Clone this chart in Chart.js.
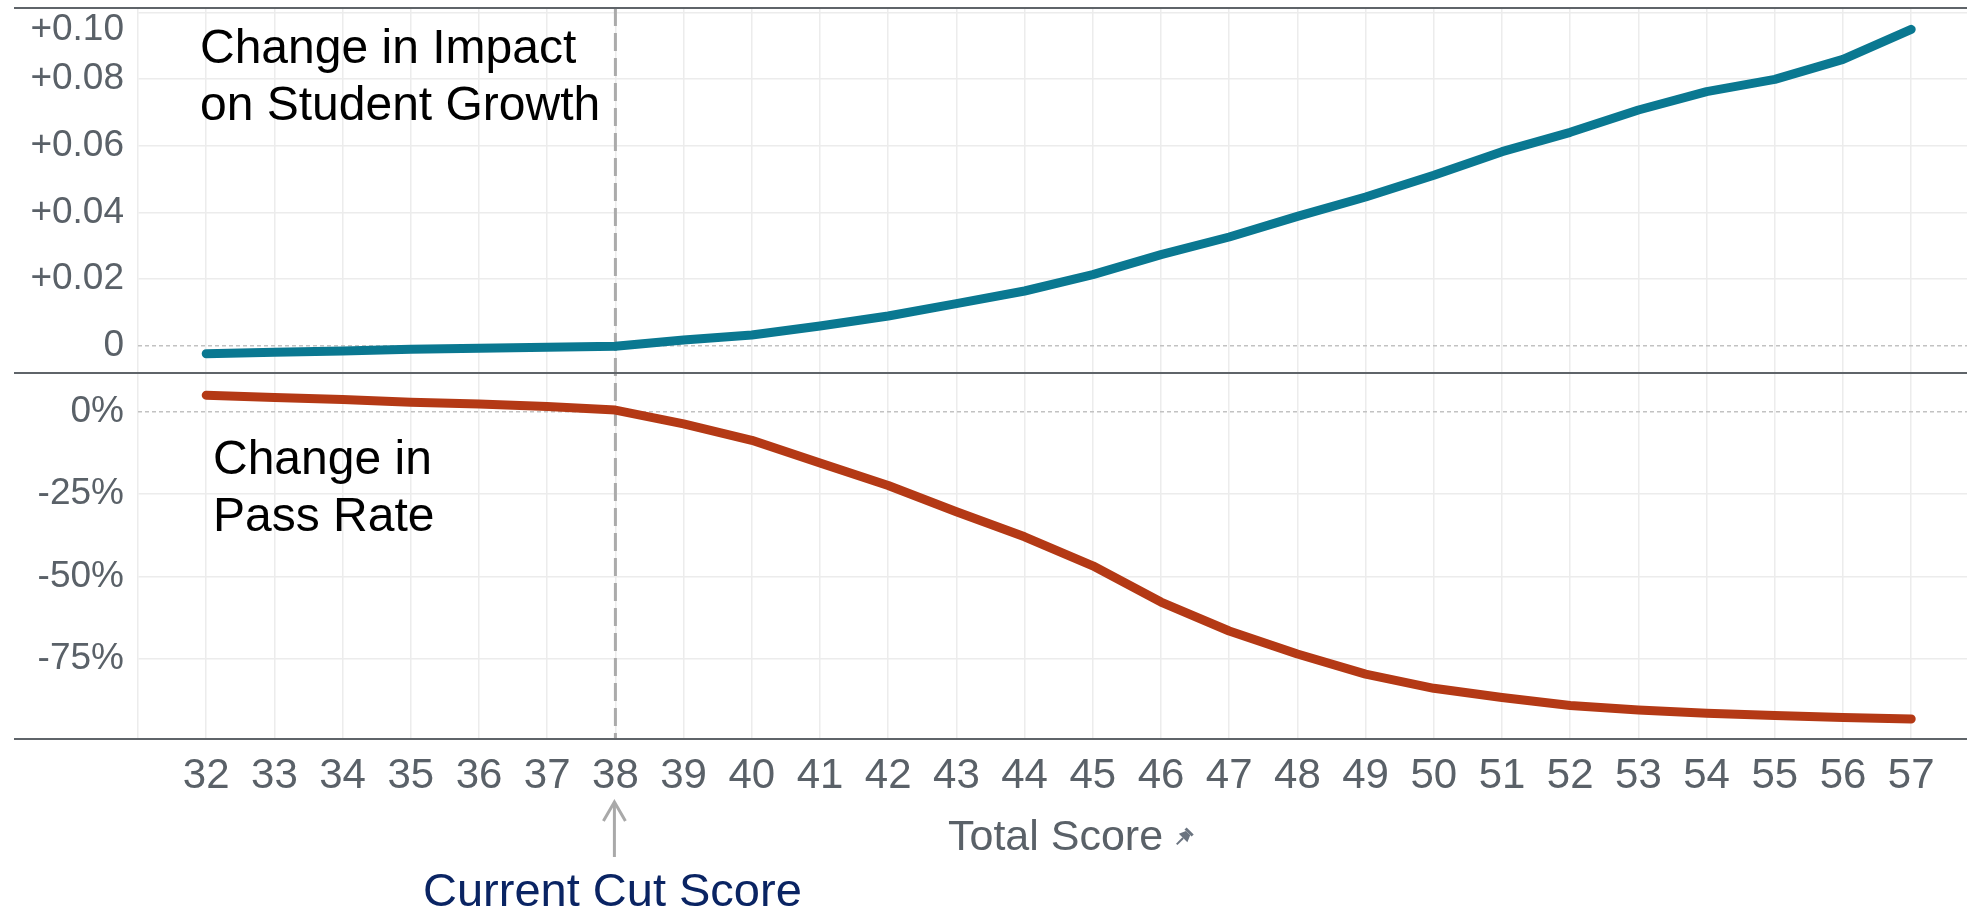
<!DOCTYPE html>
<html><head><meta charset="utf-8">
<script src="https://cdn.jsdelivr.net/npm/chart.js@4.4.1/dist/chart.umd.min.js"></script>
<style>html,body{margin:0;padding:0;background:#fff;overflow:hidden}canvas{display:block}</style>
</head><body>
<canvas id="c" width="1967" height="909" style="width:1967px;height:909px"></canvas>
<script>
// ---- data ----
const scores = [32,33,34,35,36,37,38,39,40,41,42,43,44,45,46,47,48,49,50,51,52,53,54,55,56,57];
const impactChange = [-0.0024,-0.0020,-0.0016,-0.0011,-0.0008,-0.0005,-0.0002,0.0017,0.0032,0.0059,0.0089,0.0126,0.0164,0.0213,0.0273,0.0326,0.0388,0.0446,0.0511,0.0582,0.0640,0.0707,0.0762,0.0799,0.0859,0.0949];
const passRateChange = [5.0,4.3,3.7,2.9,2.3,1.6,0.5,-3.7,-8.7,-15.6,-22.4,-30.4,-38.0,-46.8,-57.8,-66.6,-73.6,-79.7,-84.0,-86.8,-89.2,-90.6,-91.6,-92.3,-92.9,-93.3];
const impactTicks = [0,0.02,0.04,0.06,0.08,0.10];
const passTicks = [-75,-50,-25,0];
const cutScore = 38;
const impactTitle = ['Change in Impact','on Student Growth'];
const passTitle = ['Change in','Pass Rate'];
const xTitle = 'Total Score';
const cutLabel = 'Current Cut Score';

const FONT = "'Liberation Sans', Arial, sans-serif";
const TEAL = '#0a7891', RED = '#b43915', TICK = '#5a6168', GRID = '#ececec', AXIS = '#5f6469';

const deco = {
  id: 'deco',
  beforeDatasetsDraw(chart) {
    const {ctx, chartArea: a, scales} = chart;
    ctx.save();
    ctx.strokeStyle = '#c2c2c2'; ctx.lineWidth = 1.5; ctx.setLineDash([4, 3]);
    [scales.yTop, scales.yBot].forEach(s => {
      const y = s.getPixelForValue(0);
      ctx.beginPath(); ctx.moveTo(a.left, y); ctx.lineTo(a.right, y); ctx.stroke();
    });
    const cx = scales.x.getPixelForValue(cutScore);
    ctx.strokeStyle = '#ababab'; ctx.lineWidth = 3; ctx.setLineDash([18, 7]);
    ctx.beginPath(); ctx.moveTo(cx, a.top); ctx.lineTo(cx, a.bottom); ctx.stroke();
    ctx.restore();
  },
  afterDraw(chart) {
    const {ctx, chartArea: a, scales} = chart;
    ctx.save();
    ctx.strokeStyle = AXIS; ctx.lineWidth = 2;
    [a.top, scales.yTop.bottom, a.bottom].forEach(y => {
      ctx.beginPath(); ctx.moveTo(14, y); ctx.lineTo(chart.width, y); ctx.stroke();
    });
    ctx.fillStyle = '#000'; ctx.font = '48px ' + FONT; ctx.textAlign = 'left'; ctx.textBaseline = 'alphabetic';
    impactTitle.forEach((t, i) => ctx.fillText(t, 200, 63 + i * 56.5));
    passTitle.forEach((t, i) => ctx.fillText(t, 213, 474 + i * 56.5));
    ctx.fillStyle = TICK; ctx.font = '43px ' + FONT; ctx.textBaseline = 'middle';
    ctx.fillText(xTitle, 948, 838);
    const tw = ctx.measureText(xTitle).width;
    ctx.save();
    ctx.translate(948 + tw + 20, 838);
    ctx.rotate(Math.PI / 4);
    ctx.fillStyle = '#6b7480';
    ctx.fillRect(-5, -10, 10, 3);
    ctx.beginPath(); ctx.moveTo(-3, -7); ctx.lineTo(3, -7); ctx.lineTo(6, 0); ctx.lineTo(-6, 0); ctx.closePath(); ctx.fill();
    ctx.fillRect(-1, 0, 2, 9);
    ctx.restore();
    const cx = scales.x.getPixelForValue(cutScore) - 1;
    ctx.strokeStyle = '#a9a9a9'; ctx.lineWidth = 3; ctx.setLineDash([]);
    ctx.beginPath(); ctx.moveTo(cx, 857); ctx.lineTo(cx, 803); ctx.stroke();
    ctx.beginPath(); ctx.moveTo(cx - 11, 821); ctx.lineTo(cx, 802); ctx.lineTo(cx + 11, 821); ctx.stroke();
    ctx.fillStyle = '#0a2463'; ctx.font = '47px ' + FONT; ctx.textAlign = 'center'; ctx.textBaseline = 'alphabetic';
    ctx.fillText(cutLabel, cx - 2, 906);
    ctx.restore();
  }
};

const zeroPads = s => { s.paddingTop = 0; s.paddingBottom = 0; s.paddingLeft = 0; s.paddingRight = 0; };
const isTop = v => Math.abs(v - 0.1) < 1e-9;

new Chart(document.getElementById('c'), {
  type: 'line',
  data: {
    datasets: [
      { label: 'Change in Impact on Student Growth', data: scores.map((s, i) => ({x: s, y: impactChange[i]})),
        yAxisID: 'yTop', borderColor: TEAL, borderWidth: 9, pointRadius: 0, borderCapStyle: 'round', borderJoinStyle: 'round', tension: 0 },
      { label: 'Change in Pass Rate', data: scores.map((s, i) => ({x: s, y: passRateChange[i]})),
        yAxisID: 'yBot', borderColor: RED, borderWidth: 9, pointRadius: 0, borderCapStyle: 'round', borderJoinStyle: 'round', tension: 0 }
    ]
  },
  options: {
    responsive: false, animation: false, devicePixelRatio: 1,
    layout: { padding: { top: 8, left: 0, right: 0, bottom: 0 } },
    plugins: { legend: { display: false }, tooltip: { enabled: false } },
    scales: {
      x: {
        type: 'linear', min: 31, max: 57.818,
        afterBuildTicks: s => { s.ticks = scores.map(v => ({value: v})); },
        afterFit: s => { s.height = 170; zeroPads(s); },
        grid: { color: GRID, lineWidth: 1.5, drawTicks: false },
        border: { display: false },
        ticks: { autoSkip: false, maxRotation: 0, padding: 12, color: TICK,
                 font: { family: FONT, size: 42, lineHeight: 1.2 }, callback: v => String(v) }
      },
      yTop: {
        type: 'linear', position: 'left', stack: 'panels', stackWeight: 365, weight: 2,
        min: -0.0082, max: 0.1013,
        afterBuildTicks: s => { s.ticks = impactTicks.map(v => ({value: v})); },
        afterFit: s => { s.width = 138; zeroPads(s); },
        grid: { color: c => (c.tick && c.tick.value === 0) ? 'rgba(0,0,0,0)' : GRID, lineWidth: 1.5, drawTicks: false },
        border: { color: GRID, width: 1.5 },
        ticks: { autoSkip: false, padding: 14, color: TICK,
                 font: c => (c.tick && isTop(c.tick.value)) ? { family: FONT, size: 37, lineHeight: 0.93 } : { family: FONT, size: 37 },
                 callback: v => v === 0 ? '0' : (isTop(v) ? ['', '+' + v.toFixed(2)] : '+' + v.toFixed(2)) }
      },
      yBot: {
        type: 'linear', position: 'left', stack: 'panels', stackWeight: 366, weight: 1,
        min: -99.4, max: 11.75,
        afterBuildTicks: s => { s.ticks = passTicks.map(v => ({value: v})); },
        afterFit: s => { s.width = 138; zeroPads(s); },
        grid: { color: c => (c.tick && c.tick.value === 0) ? 'rgba(0,0,0,0)' : GRID, lineWidth: 1.5, drawTicks: false },
        border: { color: GRID, width: 1.5 },
        ticks: { autoSkip: false, padding: 14, color: TICK, font: { family: FONT, size: 37 },
                 callback: v => v + '%' }
      }
    }
  },
  plugins: [deco]
});
</script>
</body></html>
